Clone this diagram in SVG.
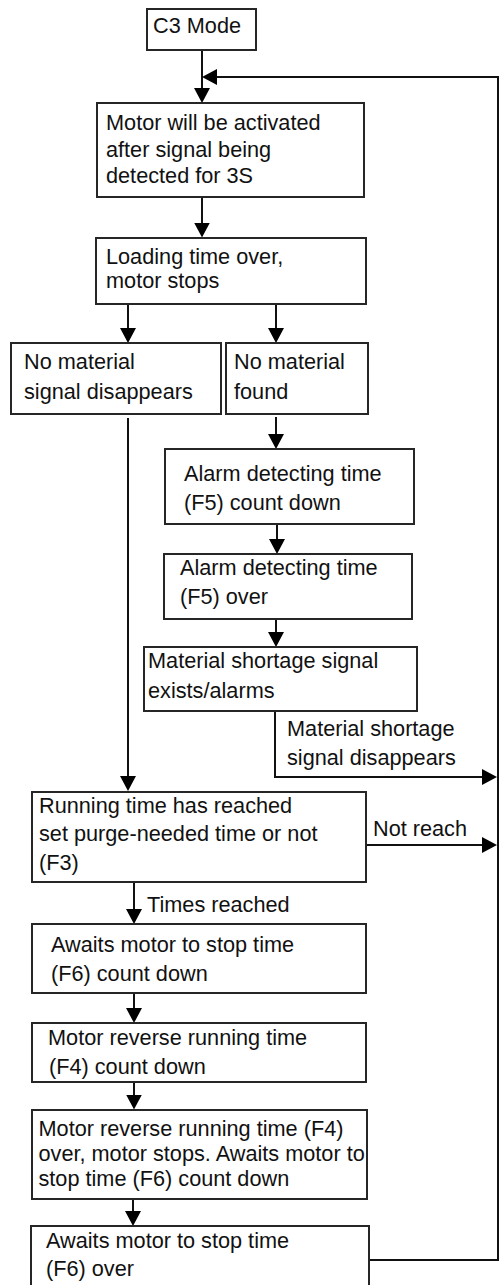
<svg xmlns="http://www.w3.org/2000/svg" width="499" height="1285" viewBox="0 0 499 1285">
<style>
  .box{fill:#fff;stroke:#262626;stroke-width:2}
  .t{font-family:"Liberation Sans",Arial,Helvetica,sans-serif;font-size:21.7px;fill:#111}
  .c{fill:none;stroke:#111;stroke-width:2}
</style>
<defs>
  <marker id="ah" viewBox="0 0 15 16" refX="10" refY="8" markerWidth="15" markerHeight="16" markerUnits="userSpaceOnUse" orient="auto">
    <path d="M0,0 L15,8 L0,16 Z" fill="#000"/>
  </marker>
</defs>
<rect width="499" height="1285" fill="#fff"/>

<g id="connectors">
  <path class="c" d="M202,50 V98" marker-end="url(#ah)"/>
  <path class="c" d="M369,1260 H498 V77 H207" marker-end="url(#ah)"/>
  <path class="c" d="M202,197 V232.5" marker-end="url(#ah)"/>
  <path class="c" d="M128,304 V338" marker-end="url(#ah)"/>
  <path class="c" d="M276,304 V338" marker-end="url(#ah)"/>
  <path class="c" d="M128,418 V786" marker-end="url(#ah)"/>
  <path class="c" d="M276,417 V444" marker-end="url(#ah)"/>
  <path class="c" d="M277,524 V549" marker-end="url(#ah)"/>
  <path class="c" d="M276,619 V642" marker-end="url(#ah)"/>
  <path class="c" d="M275,711 V777 H492" marker-end="url(#ah)"/>
  <path class="c" d="M366,845 H492" marker-end="url(#ah)"/>
  <path class="c" d="M134,882 V919" marker-end="url(#ah)"/>
  <path class="c" d="M134,993 V1018" marker-end="url(#ah)"/>
  <path class="c" d="M134,1082 V1104.5" marker-end="url(#ah)"/>
  <path class="c" d="M133,1199 V1221" marker-end="url(#ah)"/>
  <text class="t" x="287" y="736">Material shortage</text>
  <text class="t" x="287" y="764.5">signal disappears</text>
  <text class="t" x="373" y="836">Not reach</text>
  <text class="t" x="147" y="911.5">Times reached</text>
</g>

<g id="n-c3">
  <rect class="box" x="147" y="9" width="109" height="41"/>
  <text class="t" x="153" y="33">C3 Mode</text>
</g>
<g id="n-activate">
  <rect class="box" x="97" y="103" width="267" height="94"/>
  <text class="t" x="106" y="130">Motor will be activated</text>
  <text class="t" x="106" y="156.5">after signal being</text>
  <text class="t" x="106" y="183">detected for 3S</text>
</g>
<g id="n-loading">
  <rect class="box" x="96" y="238" width="270" height="66"/>
  <text class="t" x="106" y="264">Loading time over,</text>
  <text class="t" x="106" y="288">motor stops</text>
</g>
<g id="n-nomat-disappears">
  <rect class="box" x="11" y="343" width="210" height="71"/>
  <text class="t" x="24" y="368.5">No material</text>
  <text class="t" x="24" y="398.5">signal disappears</text>
</g>
<g id="n-nomat-found">
  <rect class="box" x="226" y="343" width="142" height="71"/>
  <text class="t" x="234" y="368.5">No material</text>
  <text class="t" x="234" y="398.5">found</text>
</g>
<g id="n-alarm-countdown">
  <rect class="box" x="165" y="449" width="249" height="75"/>
  <text class="t" x="184" y="480.5">Alarm detecting time</text>
  <text class="t" x="184" y="509.5">(F5) count down</text>
</g>
<g id="n-alarm-over">
  <rect class="box" x="164" y="554" width="248" height="65"/>
  <text class="t" x="180" y="575">Alarm detecting time</text>
  <text class="t" x="180" y="604">(F5) over</text>
</g>
<g id="n-shortage">
  <rect class="box" x="144" y="647" width="273" height="64"/>
  <text class="t" x="148" y="667.5">Material shortage signal</text>
  <text class="t" x="148" y="697.5">exists/alarms</text>
</g>
<g id="n-running">
  <rect class="box" x="32" y="792" width="334" height="90"/>
  <text class="t" x="39" y="812.5">Running time has reached</text>
  <text class="t" x="39" y="841">set purge-needed time or not</text>
  <text class="t" x="39" y="870">(F3)</text>
</g>
<g id="n-await-countdown">
  <rect class="box" x="32" y="924" width="334" height="69"/>
  <text class="t" x="51" y="952">Awaits motor to stop time</text>
  <text class="t" x="51" y="981">(F6) count down</text>
</g>
<g id="n-reverse-countdown">
  <rect class="box" x="32" y="1023" width="334" height="59"/>
  <text class="t" x="48" y="1044.5">Motor reverse running time</text>
  <text class="t" x="49" y="1073.5">(F4) count down</text>
</g>
<g id="n-reverse-over">
  <rect class="box" x="32" y="1110" width="335" height="89"/>
  <text class="t" x="38.5" y="1136">Motor reverse running time (F4)</text>
  <text class="t" x="38.5" y="1161">over, motor stops. Awaits motor to</text>
  <text class="t" x="38.5" y="1185.5">stop time (F6) count down</text>
</g>
<g id="n-await-over">
  <rect class="box" x="31" y="1226" width="338" height="70"/>
  <text class="t" x="46" y="1247.5">Awaits motor to stop time</text>
  <text class="t" x="46" y="1276">(F6) over</text>
</g>
</svg>
